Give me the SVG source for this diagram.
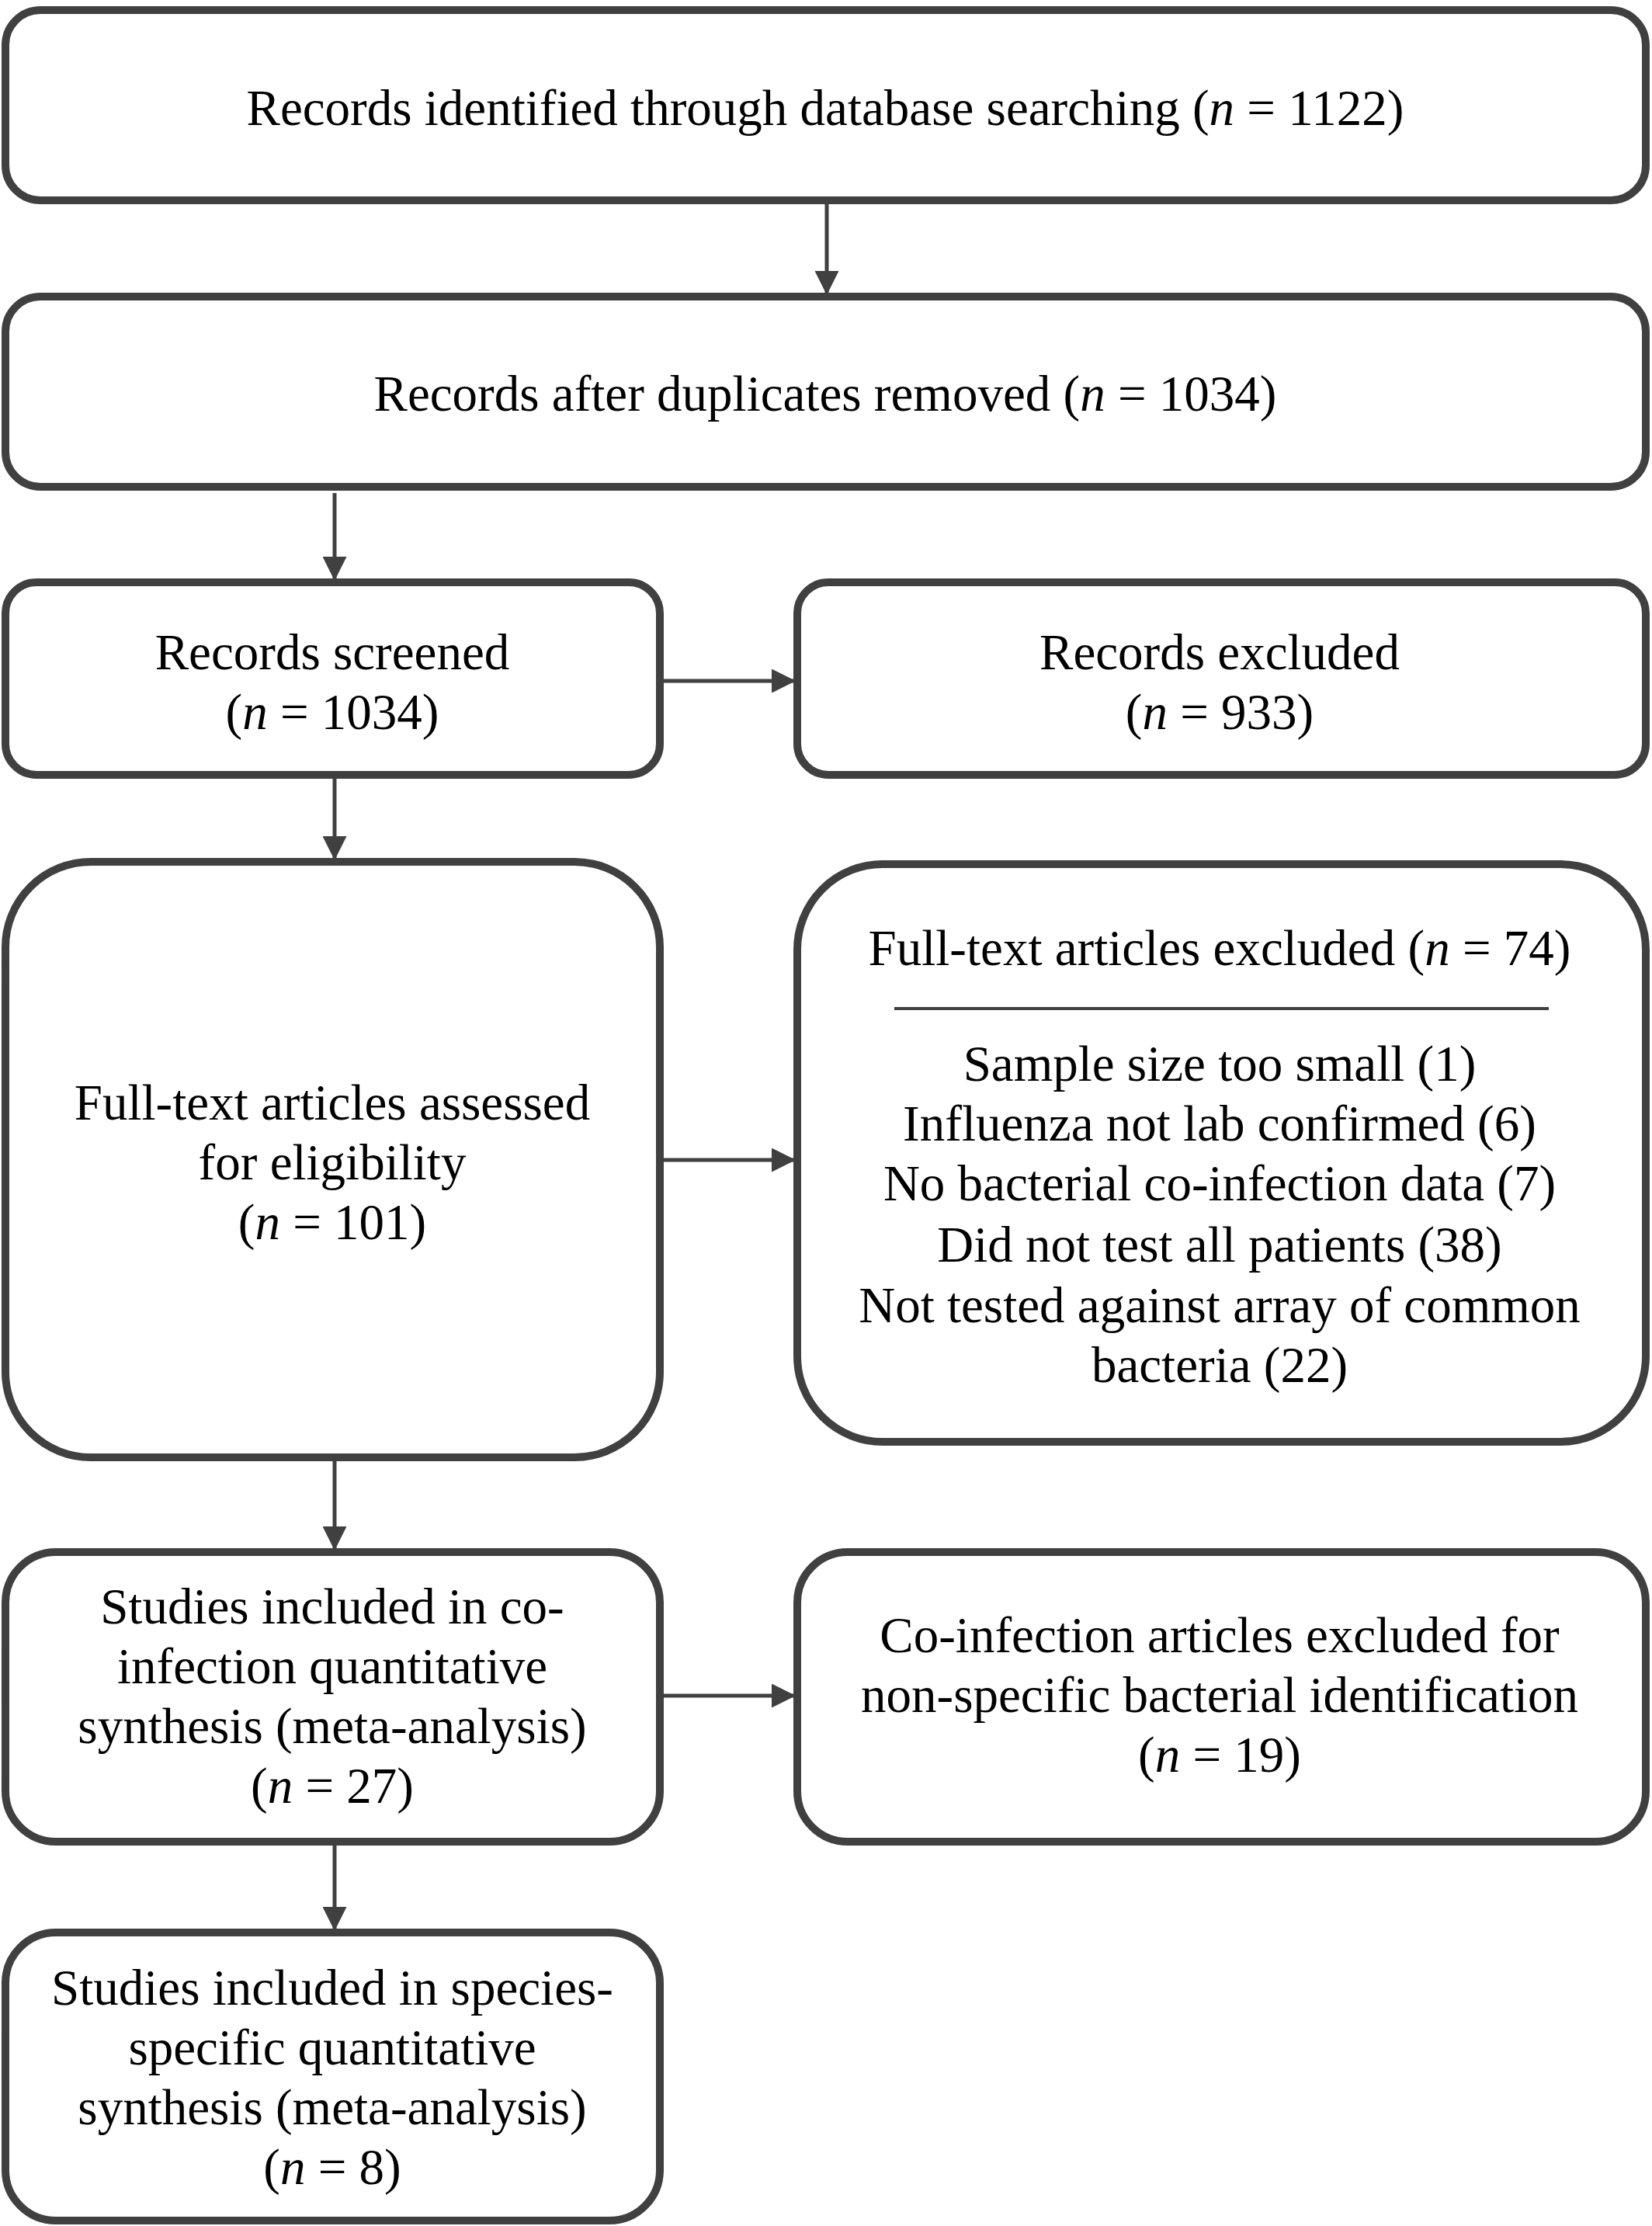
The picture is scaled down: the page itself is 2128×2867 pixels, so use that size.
<svg xmlns="http://www.w3.org/2000/svg" width="2128" height="2867" viewBox="0 0 2128 2867">
<style>
.box{fill:#fff;stroke:#404040;stroke-width:10}
.t{font-family:"Liberation Serif","Times New Roman",serif;font-size:65px;fill:#000;text-anchor:middle}
.c{stroke:#404040;stroke-width:5;fill:none}
</style>
<defs>
<marker id="ah" viewBox="0 0 10 10" refX="10" refY="5" markerWidth="6.5" markerHeight="6.2" markerUnits="strokeWidth" orient="auto"><path d="M0,0 L10,5 L0,10 z" fill="#404040"/></marker>
</defs>
<rect width="2128" height="2867" fill="#fff"/>
<g id="connectors">
<line class="c" x1="1065" y1="263" x2="1065" y2="380" marker-end="url(#ah)"/>
<line class="c" x1="431" y1="635" x2="431" y2="748" marker-end="url(#ah)"/>
<line class="c" x1="850" y1="877" x2="1025" y2="877" marker-end="url(#ah)"/>
<line class="c" x1="431" y1="998" x2="431" y2="1108" marker-end="url(#ah)"/>
<line class="c" x1="850" y1="1494" x2="1025" y2="1494" marker-end="url(#ah)"/>
<line class="c" x1="431" y1="1877" x2="431" y2="1997" marker-end="url(#ah)"/>
<line class="c" x1="850" y1="2184" x2="1025" y2="2184" marker-end="url(#ah)"/>
<line class="c" x1="431" y1="2377" x2="431" y2="2487" marker-end="url(#ah)"/>
</g>
<g id="n1">
<rect class="box" x="7" y="13" width="2113" height="245" rx="45"/>
<text class="t" x="1063" y="161">Records identified through database searching (<tspan font-style="italic">n</tspan> = 1122)</text>
</g>
<g id="n2">
<rect class="box" x="7" y="382" width="2113" height="245" rx="45"/>
<text class="t" x="1063" y="529">Records after duplicates removed (<tspan font-style="italic">n</tspan> = 1034)</text>
</g>
<g id="n3">
<rect class="box" x="7" y="750" width="843" height="248" rx="40"/>
<text class="t" x="428" y="862">Records screened</text>
<text class="t" x="428" y="939">(<tspan font-style="italic">n</tspan> = 1034)</text>
</g>
<g id="n4">
<rect class="box" x="1027" y="750" width="1093" height="248" rx="40"/>
<text class="t" x="1571" y="862">Records excluded</text>
<text class="t" x="1571" y="939">(<tspan font-style="italic">n</tspan> = 933)</text>
</g>
<g id="n5">
<rect class="box" x="7" y="1110" width="843" height="767" rx="110"/>
<text class="t" x="428" y="1442">Full-text articles assessed</text>
<text class="t" x="428" y="1519">for eligibility</text>
<text class="t" x="428" y="1596">(<tspan font-style="italic">n</tspan> = 101)</text>
</g>
<g id="n6">
<rect class="box" x="1027" y="1113" width="1093" height="744" rx="110"/>
<text class="t" x="1571" y="1243">Full-text articles excluded (<tspan font-style="italic">n</tspan> = 74)</text>
<line x1="1152" y1="1299" x2="1995" y2="1299" stroke="#404040" stroke-width="4"/>
<text class="t" x="1571" y="1392">Sample size too small (1)</text>
<text class="t" x="1571" y="1469">Influenza not lab confirmed (6)</text>
<text class="t" x="1571" y="1546">No bacterial co-infection data (7)</text>
<text class="t" x="1571" y="1625">Did not test all patients (38)</text>
<text class="t" x="1571" y="1703">Not tested against array of common</text>
<text class="t" x="1571" y="1780">bacteria (22)</text>
</g>
<g id="n7">
<rect class="box" x="7" y="1999" width="843" height="373" rx="65"/>
<text class="t" x="428" y="2091">Studies included in co-</text>
<text class="t" x="428" y="2168">infection quantitative</text>
<text class="t" x="428" y="2245">synthesis (meta-analysis)</text>
<text class="t" x="428" y="2322">(<tspan font-style="italic">n</tspan> = 27)</text>
</g>
<g id="n8">
<rect class="box" x="1027" y="1999" width="1093" height="373" rx="65"/>
<text class="t" x="1571" y="2128">Co-infection articles excluded for</text>
<text class="t" x="1571" y="2205">non-specific bacterial identification</text>
<text class="t" x="1571" y="2282">(<tspan font-style="italic">n</tspan> = 19)</text>
</g>
<g id="n9">
<rect class="box" x="7" y="2489" width="843" height="371" rx="65"/>
<text class="t" x="428" y="2582">Studies included in species-</text>
<text class="t" x="428" y="2659">specific quantitative</text>
<text class="t" x="428" y="2736">synthesis (meta-analysis)</text>
<text class="t" x="428" y="2813">(<tspan font-style="italic">n</tspan> = 8)</text>
</g>
</svg>
